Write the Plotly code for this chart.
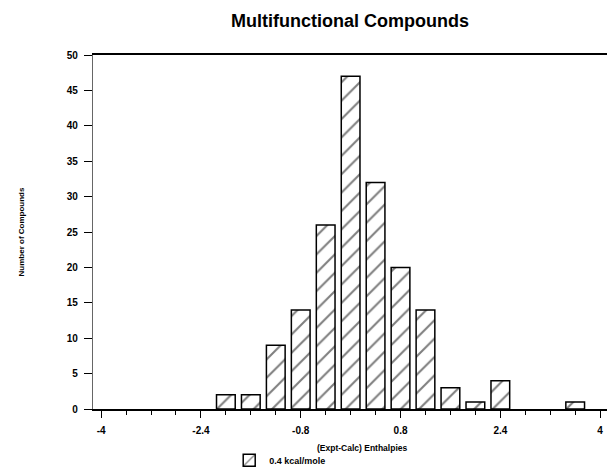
import plotly.graph_objects as go

bin_centers = [-2.0, -1.6, -1.2, -0.8, -0.4, 0.0, 0.4, 0.8, 1.2, 1.6, 2.0, 2.4, 3.6]
counts = [2, 2, 9, 14, 26, 47, 32, 20, 14, 3, 1, 4, 1]
x_ticks = [-4, -2.4, -0.8, 0.8, 2.4, 4]
x_tick_labels = ["-4", "-2.4", "-0.8", "0.8", "2.4", "4"]
y_ticks = [0, 5, 10, 15, 20, 25, 30, 35, 40, 45, 50]

FONT = "Liberation Sans, Arial, sans-serif"

fig = go.Figure()
fig.add_trace(go.Bar(
    x=bin_centers, y=counts, width=0.3,
    name="<b>0.4 kcal/mole</b>",
    marker=dict(color="white", line=dict(color="black", width=1.5),
                pattern=dict(shape="/", fgcolor="black", bgcolor="white",
                             size=13, solidity=0.16)),
    showlegend=True,
))

fig.update_layout(
    width=607, height=469,
    margin=dict(l=93, r=0, t=55, b=60, autoexpand=False),
    paper_bgcolor="white", plot_bgcolor="white",
    font=dict(family=FONT, color="black", size=10),
    title=dict(text="<b>Multifunctional Compounds</b>", x=0.5, xref="paper",
               y=0.955, yanchor="middle",
               font=dict(family=FONT, size=18, color="black")),
    showlegend=True,
    legend=dict(orientation="h", x=0.265, xanchor="left", y=-0.104, yanchor="top",
                font=dict(family=FONT, size=9), bgcolor="rgba(0,0,0,0)",
                itemwidth=30, tracegroupgap=0),
    xaxis=dict(range=[-4.13, 4.11], tickvals=x_ticks,
               ticktext=["<b>%s</b>" % t for t in x_tick_labels],
               ticks="outside", ticklen=7, tickwidth=1.3, tickcolor="black",
               ticklabelstandoff=4,
               showline=True, linecolor="black", linewidth=1.5, mirror=True,
               showgrid=False, zeroline=False,
               minor=dict(dtick=0.4, tick0=-4, ticks="outside", ticklen=4,
                          tickcolor="black", showgrid=False),
               tickfont=dict(family=FONT, size=10)),
    yaxis=dict(range=[0, 50], tickvals=y_ticks,
               ticktext=["<b>%d</b>" % v for v in y_ticks],
               ticks="outside", ticklen=8, tickwidth=1.3, tickcolor="black",
               ticklabelstandoff=4,
               showline=True, linecolor="#666", linewidth=1.3,
               showgrid=False, zeroline=False,
               title=dict(text="<b>Number of Compounds</b>", standoff=40,
                          font=dict(family=FONT, size=8)),
               tickfont=dict(family=FONT, size=10)),
    annotations=[dict(text="<b>(Expt-Calc) Enthalpies</b>", xref="paper", yref="paper",
                      x=0.523, y=-0.11, xanchor="center", yanchor="middle",
                      showarrow=False, font=dict(family=FONT, size=8.5))],
)

fig.write_html("out.html")
